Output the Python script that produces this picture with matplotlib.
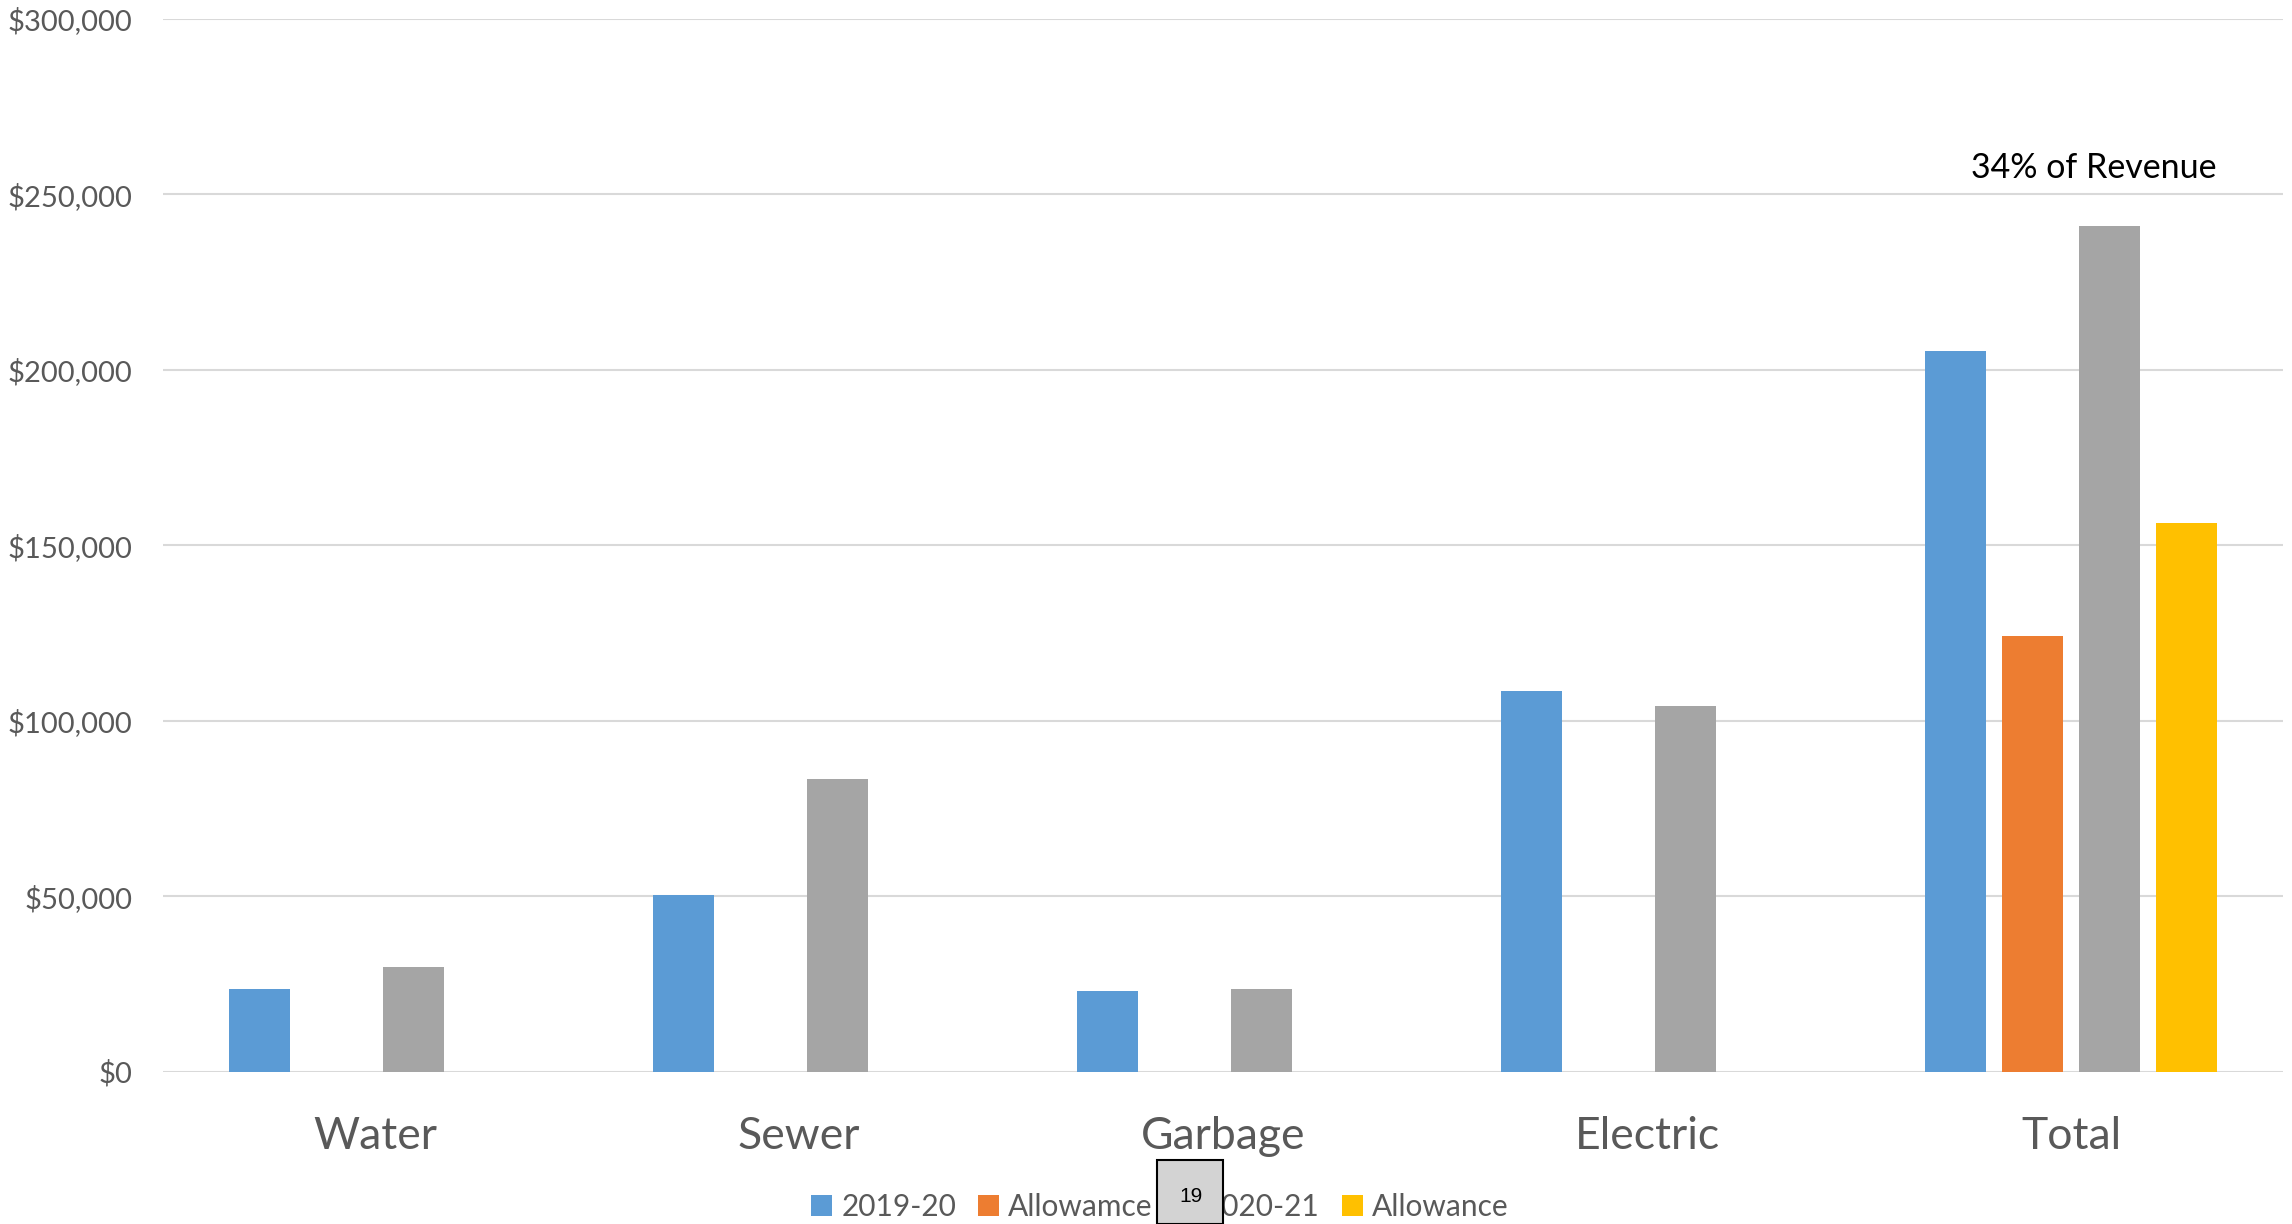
import matplotlib.pyplot as plt
import matplotlib.patches as mpatches
from matplotlib.ticker import FuncFormatter

# utility spending by category, two years plus allowance totals
categories = ['Water', 'Sewer', 'Garbage', 'Electric', 'Total']
series_names = ['2019-20', 'Allowamce', '2020-21', 'Allowance']
spend_2019 = [23400, 50400, 22900, 108400, 205500]
allow_2019 = [0, 0, 0, 0, 124200]
spend_2020 = [29900, 83400, 23400, 104100, 241100]
allow_2020 = [0, 0, 0, 0, 156300]
yticks = [0, 50000, 100000, 150000, 200000, 250000, 300000]
note = '34% of Revenue'
page_no = '19'

colors = ['#5B9BD5', '#ED7D31', '#A5A5A5', '#FFC000']
text_grey = '#595959'
font = ['Lato', 'DejaVu Sans']

W, H = 2292, 1224
fig = plt.figure(figsize=(W / 100, H / 100), dpi=100)
ax = fig.add_axes([163 / W, 1 - 1071.5 / H, 2120 / W, 1052.5 / H])

pitch = 76.8 / 424
width = 60.7 / 424
all_series = [spend_2019, allow_2019, spend_2020, allow_2020]
handles = []
for i, vals in enumerate(all_series):
    xs = [c + (i - 1.5) * pitch for c in range(len(categories))]
    bars = ax.bar(xs, vals, width=width, color=colors[i], zorder=3,
                  label=series_names[i])
    handles.append(bars)

ax.set_xlim(-0.5, len(categories) - 0.5)
ax.set_ylim(0, 300000)
ax.set_yticks(yticks)
ax.yaxis.set_major_formatter(FuncFormatter(lambda v, p: '${:,.0f}'.format(v)))
ax.set_xticks(range(len(categories)))
ax.set_xticklabels(categories)
ax.grid(axis='y', color='#D9D9D9', linewidth=1.5, zorder=0)
ax.tick_params(axis='y', length=0, pad=22, labelsize=21, labelcolor=text_grey)
ax.tick_params(axis='x', length=0, pad=32, labelsize=32, labelcolor=text_grey)
for lab in ax.get_yticklabels() + ax.get_xticklabels():
    lab.set_family(font)
for s in ax.spines.values():
    s.set_visible(False)

ax.text(4.054, 257500, note, ha='center', va='center', fontsize=24.5,
        color='black', family=font)

leg = fig.legend(handles=handles, loc='center',
                 bbox_to_anchor=(1160 / W, 1 - 1207 / H), ncol=4,
                 frameon=False, handlelength=0.7, handleheight=0.7,
                 handletextpad=0.3, columnspacing=0.75,
                 prop={'family': font, 'size': 21.5})
for t in leg.get_texts():
    t.set_color(text_grey)

# page number box drawn over the legend
fig.patches.append(mpatches.Rectangle((1157 / W, 0), 66 / W, 64 / H,
                                      transform=fig.transFigure,
                                      facecolor='#D3D3D3', edgecolor='black',
                                      linewidth=1.5, zorder=10))
fig.text(1191.5 / W, 1 - 1196.5 / H, page_no, ha='center', va='center',
         fontsize=15, family='Liberation Sans', color='black', zorder=11)

fig.savefig('out.png', dpi=100)
